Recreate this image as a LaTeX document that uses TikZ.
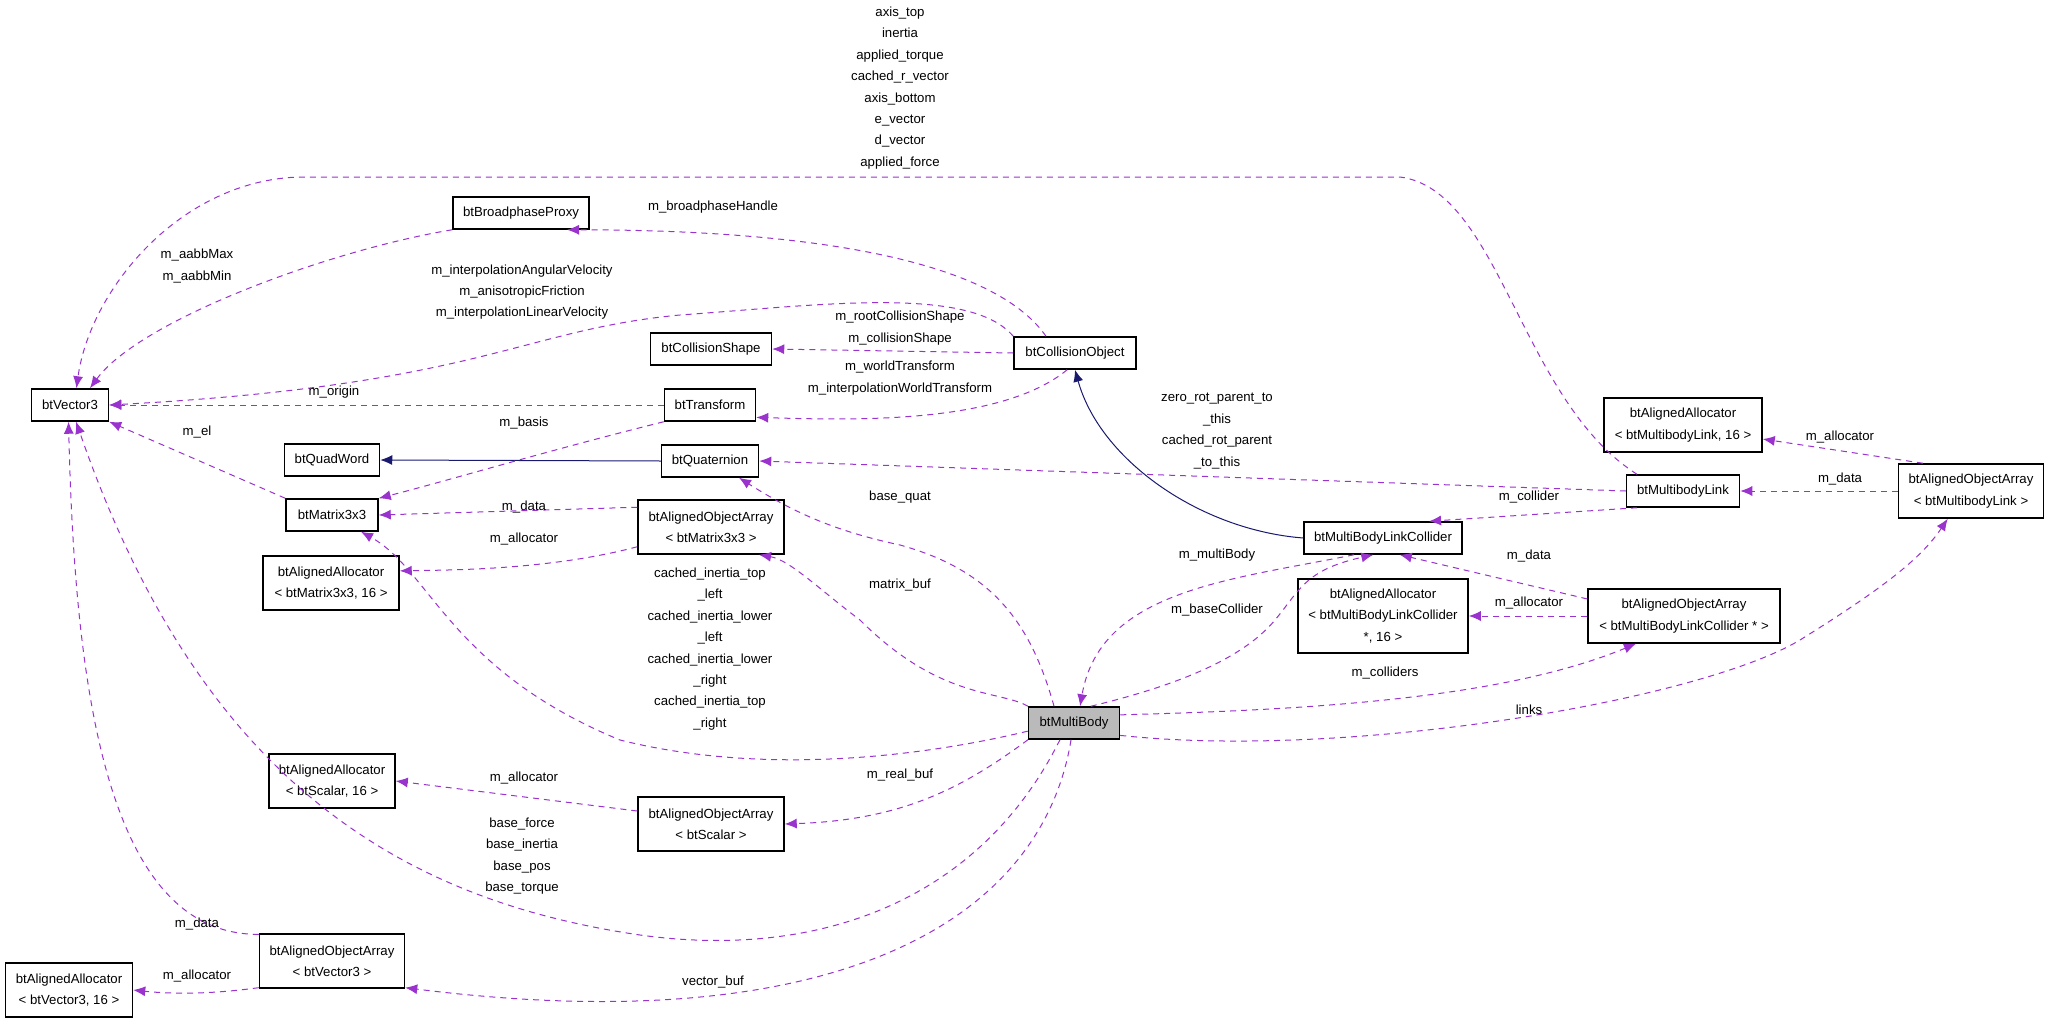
\documentclass[tikz,border=0pt]{standalone}
\usepackage{fontspec}
\setmainfont{Liberation Sans}
\usetikzlibrary{arrows.meta}
\definecolor{ed}{HTML}{9A32CD}
\definecolor{inh}{HTML}{191970}
\begin{document}
\begin{tikzpicture}[x=0.5pt,y=-0.5pt,
  every node/.style={font=\fontsize{6.6}{10.7}\selectfont, inner sep=0pt},
  box/.style={draw=black, line width=0.75pt, align=center, minimum height=16pt},
  box2/.style={box, minimum height=27pt},
  lbl/.style={align=center},
  use/.style={draw=ed, dashed, dash pattern=on 3pt off 2.5pt, line width=0.5pt, -{Latex[length=6pt,width=5pt]}},
  inhe/.style={draw=inh, line width=0.5pt, -{Latex[length=6pt,width=5pt]}}]
\useasboundingbox (0,0) rectangle (2053,1023);
% nodes
\node[box, minimum width=38.5pt] (vec) at (70,405) {btVector3};
\node[box, minimum width=68pt] (proxy) at (521,213) {btBroadphaseProxy};
\node[box, minimum width=60.5pt] (shape) at (711,349) {btCollisionShape};
\node[box, minimum width=61pt] (colobj) at (1075,353) {btCollisionObject};
\node[box, minimum width=45.5pt] (trans) at (710,405) {btTransform};
\node[box, minimum width=47.5pt] (quad) at (332,460) {btQuadWord};
\node[box, minimum width=48.5pt] (quat) at (710,461) {btQuaternion};
\node[box, minimum width=46pt] (mat) at (332,515) {btMatrix3x3};
\node[box2, minimum width=73pt] (aom) at (711,527) {btAlignedObjectArray\\< btMatrix3x3 >};
\node[box2, minimum width=68pt] (aam) at (331,583) {btAlignedAllocator\\< btMatrix3x3, 16 >};
\node[box2, minimum width=63pt] (aas) at (332,781) {btAlignedAllocator\\< btScalar, 16 >};
\node[box2, minimum width=73pt] (aos) at (711,824) {btAlignedObjectArray\\< btScalar >};
\node[box2, minimum width=72.5pt] (aov) at (332,961) {btAlignedObjectArray\\< btVector3 >};
\node[box2, minimum width=63.5pt] (aav) at (69,990) {btAlignedAllocator\\< btVector3, 16 >};
\node[box, fill=black!27, minimum width=45.5pt] (mb) at (1074,723) {btMultiBody};
\node[box, minimum width=79pt] (lc) at (1383,538) {btMultiBodyLinkCollider};
\node[box, minimum width=85pt, minimum height=37pt] (aalc) at (1383,616) {btAlignedAllocator\\< btMultiBodyLinkCollider\\*, 16 >};
\node[box2, minimum width=96pt] (aolc) at (1684,616) {btAlignedObjectArray\\< btMultiBodyLinkCollider * >};
\node[box, minimum width=56.5pt] (link) at (1683,491) {btMultibodyLink};
\node[box2, minimum width=79pt] (aal) at (1683,425) {btAlignedAllocator\\< btMultibodyLink, 16 >};
\node[box2, minimum width=72.5pt] (aol) at (1971,491) {btAlignedObjectArray\\< btMultibodyLink >};
% inheritance
\draw[inhe] (quat.west) -- (quad.east);
\draw[inhe] (lc.west) .. controls (1200,530) and (1100,460) .. (colobj.south);
% usage edges
\draw[use] (link.160) .. controls (1520,400) and (1500,190) .. (1400,177) -- (300,177) .. controls (180,180) and (90,290) .. (vec.69);
\draw[use] (proxy.south west) .. controls (330,250) and (140,320) .. (vec.40);
\draw[use] (colobj.150) .. controls (1000,270) and (850,230) .. (proxy.-20);
\draw[use] (colobj.north west) .. controls (970,285) and (820,305) .. (680,315) .. controls (520,330) and (480,385) .. (vec.east);
\draw[use] (colobj.west) -- (shape.east);
\draw[use] (colobj.-115) .. controls (1000,425) and (850,420) .. (trans.-15);
\draw[use] (trans.west) -- (vec.east);
\draw[use] (trans.south west) .. controls (550,450) and (450,480) .. (mat.north east);
\draw[use] (mat.north west) -- (vec.south east);
\draw[use] (aom.165) -- (mat.east);
\draw[use] (aom.-165) .. controls (550,570) and (450,570) .. (aam.10);
\draw[use] (mb.140) .. controls (1030,620) and (990,570) .. (900,545) .. controls (830,530) and (790,510) .. (quat.-30);
\draw[use] (mb.160) .. controls (1000,690) and (940,700) .. (860,620) .. controls (820,590) and (790,560) .. (aom.-30);
\draw[use] (mb.-170) .. controls (950,750) and (780,780) .. (620,740) .. controls (450,670) and (430,570) .. (mat.-30);
\draw[use] (mb.-160) .. controls (960,790) and (900,820) .. (aos.east);
\draw[use] (mb.-130) .. controls (980,900) and (820,960) .. (640,935) .. controls (400,900) and (200,780) .. (vec.-70);
\draw[use] (aov.160) .. controls (110,935) and (75,700) .. (vec.-95);
\draw[use] (mb.-100) .. controls (1040,930) and (820,1040) .. (aov.-20);
\draw[use] (aov.-160) .. controls (220,993) and (180,995) .. (aav.east);
\draw[use] (aos.170) -- (aas.east);
\draw[use] (lc.-150) .. controls (1230,580) and (1100,590) .. (mb.70);
\draw[use] (mb.45) .. controls (1200,680) and (1250,650) .. (1275,620) .. controls (1300,590) and (1305,570) .. (lc.-120);
\draw[use] (mb.10) .. controls (1300,710) and (1500,700) .. (aolc.-150);
\draw[use] (mb.-15) .. controls (1350,760) and (1700,700) .. (1800,640) .. controls (1880,590) and (1920,560) .. (aol.-130);
\draw[use] (aolc.170) -- (lc.-45);
\draw[use] (aolc.west) -- (aalc.east);
\draw[use] (link.-160) -- (lc.20);
\draw[use] (link.west) -- (quat.east);
\draw[use] (aol.west) -- (link.east);
\draw[use] (aol.150) -- (aal.-10);
% labels
\node[lbl] (l1) at (900,88) {axis\_top\\inertia\\applied\_torque\\cached\_r\_vector\\axis\_bottom\\e\_vector\\d\_vector\\applied\_force};
\node[lbl] (l2) at (197,266) {m\_aabbMax\\m\_aabbMin};
\node[lbl] (l3) at (713,207) {m\_broadphaseHandle};
\node[lbl] (l4) at (522,292) {m\_interpolationAngularVelocity\\m\_anisotropicFriction\\m\_interpolationLinearVelocity};
\node[lbl] (l5) at (900,328) {m\_rootCollisionShape\\m\_collisionShape};
\node[lbl] (l6) at (900,378) {m\_worldTransform\\m\_interpolationWorldTransform};
\node[lbl] (l7) at (334,392) {m\_origin};
\node[lbl] (l8) at (524,423) {m\_basis};
\node[lbl] (l9) at (197,432) {m\_el};
\node[lbl] (l10) at (524,507) {m\_data};
\node[lbl] (l11) at (524,539) {m\_allocator};
\node[lbl] (l12) at (900,497) {base\_quat};
\node[lbl] (l13) at (710,649) {cached\_inertia\_top\\\_left\\cached\_inertia\_lower\\\_left\\cached\_inertia\_lower\\\_right\\cached\_inertia\_top\\\_right};
\node[lbl] (l14) at (900,585) {matrix\_buf};
\node[lbl] (l15) at (524,778) {m\_allocator};
\node[lbl] (l16) at (900,775) {m\_real\_buf};
\node[lbl] (l17) at (522,856) {base\_force\\base\_inertia\\base\_pos\\base\_torque};
\node[lbl] (l18) at (197,924) {m\_data};
\node[lbl] (l19) at (197,976) {m\_allocator};
\node[lbl] (l20) at (713,982) {vector\_buf};
\node[lbl] (l21) at (1217,431) {zero\_rot\_parent\_to\\\_this\\cached\_rot\_parent\\\_to\_this};
\node[lbl] (l22) at (1840,437) {m\_allocator};
\node[lbl] (l23) at (1840,479) {m\_data};
\node[lbl] (l24) at (1529,497) {m\_collider};
\node[lbl] (l25) at (1217,555) {m\_multiBody};
\node[lbl] (l26) at (1217,610) {m\_baseCollider};
\node[lbl] (l27) at (1529,556) {m\_data};
\node[lbl] (l28) at (1529,603) {m\_allocator};
\node[lbl] (l29) at (1385,673) {m\_colliders};
\node[lbl] (l30) at (1529,710) {links};
\end{tikzpicture}
\end{document}
